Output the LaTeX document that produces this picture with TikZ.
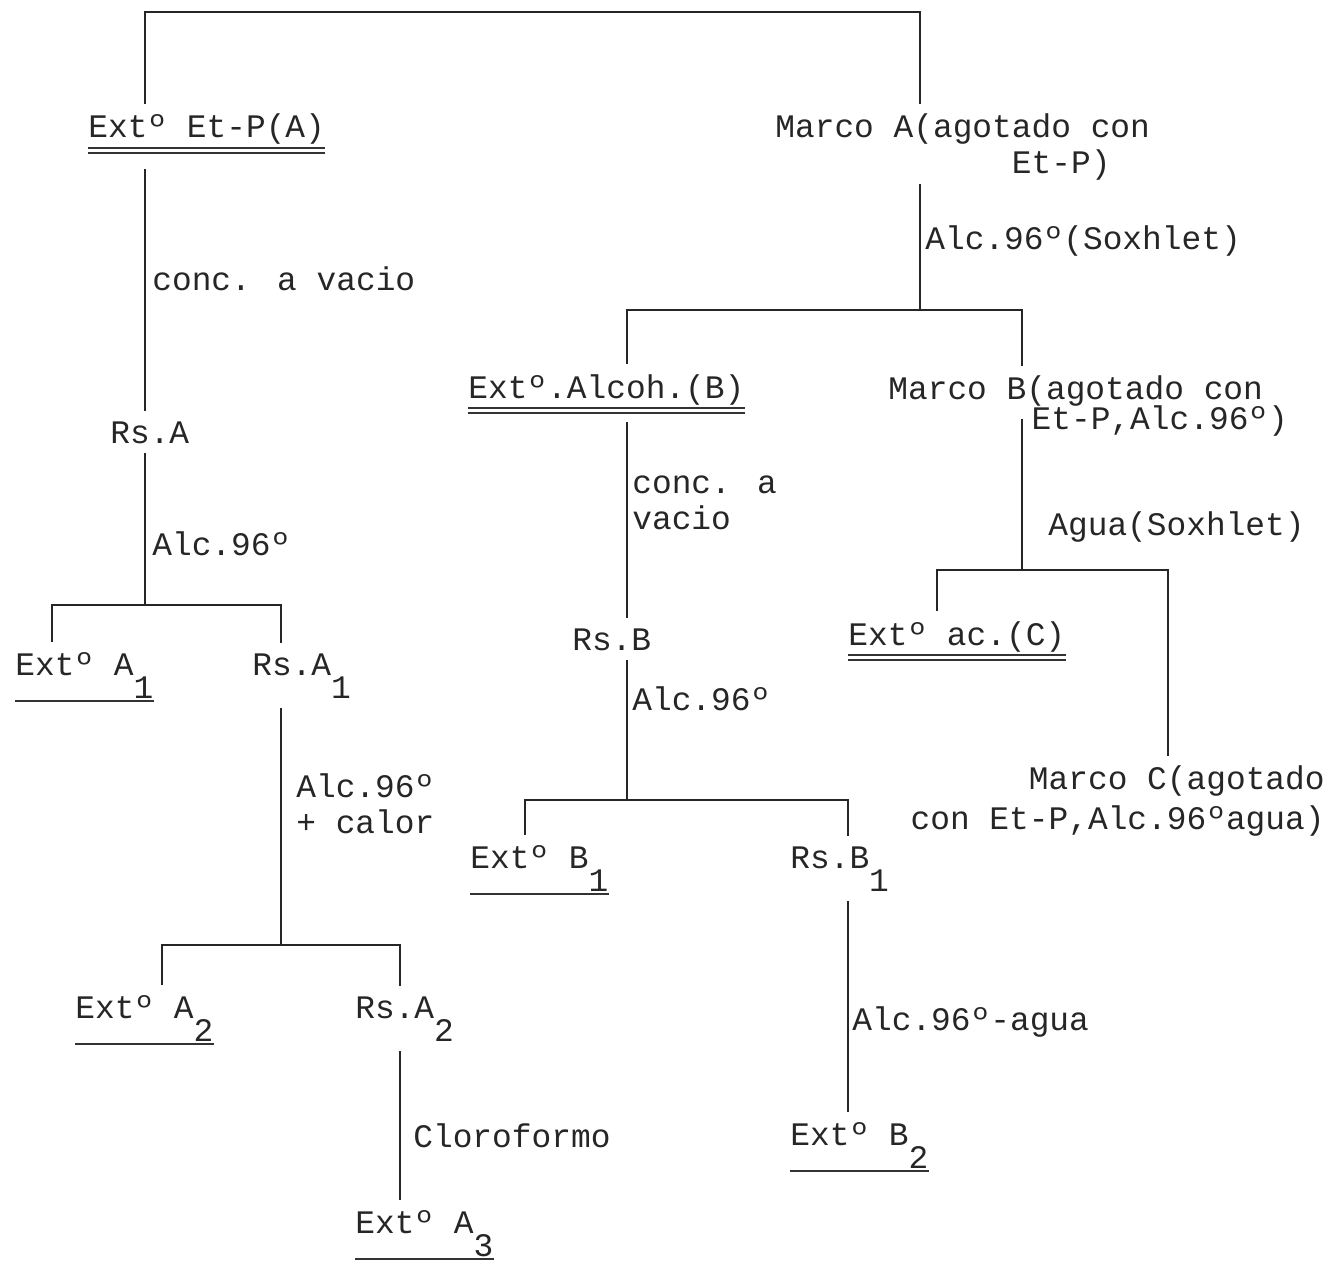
\documentclass[tikz,border=0pt]{standalone}
\usepackage{fontspec}
\usepackage{tikz}
\newfontfamily\typew{Liberation Mono}
\newcommand{\lowr}[1]{\raisebox{-0.7em}{#1}}

\tikzset{
	txt/.style={font=\typew\fontsize{18.7}{20.5}\selectfont, text=black!85,
		inner xsep=0pt, inner ysep=1.5pt, anchor=base west},
	lbl/.style={txt},
	ulstroke/.style={line width=1.3pt, black!80},
	uline/.style={append after command={
			(\tikzlastnode.south west) edge[ulstroke] (\tikzlastnode.south east)}},
	dline/.style={append after command={
			(\tikzlastnode.south west) edge[ulstroke] (\tikzlastnode.south east)
			([yshift=-0.1cm]\tikzlastnode.south west) edge[ulstroke] ([yshift=-0.1cm]\tikzlastnode.south east)}},
	link/.style={line width=0.9pt, black!85},
	gapin/.style={shorten <=4pt},
	gapout/.style={shorten >=4pt}
}

\begin{document}
\begin{tikzpicture}[x=0.02cm, y=-0.02cm]
		\useasboundingbox (0,0) rectangle (1335,1284);
		
		% columns and bars
		\coordinate (xA) at (145,0);
		\coordinate (xA1) at (52,0);
		\coordinate (xRA1) at (281,0);
		\coordinate (xA2) at (162,0);
		\coordinate (xRA2) at (400,0);
		\coordinate (xMA) at (920,0);
		\coordinate (xB) at (627,0);
		\coordinate (xMB) at (1022,0);
		\coordinate (xC) at (937,0);
		\coordinate (xMC) at (1168,0);
		\coordinate (xB1) at (525,0);
		\coordinate (xRB1) at (848,0);
		\coordinate (yTop) at (0,12);
		\coordinate (yA) at (0,605);
		\coordinate (yA1) at (0,945);
		\coordinate (yM) at (0,310);
		\coordinate (yMB) at (0,570);
		\coordinate (yB) at (0,800);
		
		% extracts and residues
		\node [txt, dline] (etpA) at (88,138) {Extº Et-P(A)};
		\node [txt, anchor=north west, align=left] (marcoA) at (775,111)
			{Marco A(agotado con\\\phantom{Marco A(agot}Et-P)};
		\node [txt] (rsA) at (110,443) {Rs.A};
		\node [txt, uline] (extA1) at (15,675) {Extº A\lowr{1}};
		\node [txt] (rsA1) at (252,675) {Rs.A\lowr{1}};
		\node [txt, uline] (extA2) at (75,1018) {Extº A\lowr{2}};
		\node [txt] (rsA2) at (355,1018) {Rs.A\lowr{2}};
		\node [txt, uline] (extA3) at (355,1233) {Extº A\lowr{3}};
		
		\node [txt, dline] (extB) at (468,398) {Extº.Alcoh.(B)};
		\node [txt, anchor=north west, align=left] (marcoB) at (888,373)
			{Marco B(agotado con\\[-3.4pt]\phantom{Marco B}\hspace{3pt}Et-P,Alc.96º)};
		\node [txt] (rsB) at (572,650) {Rs.B};
		\node [txt, uline] (extB1) at (470,868) {Extº B\lowr{1}};
		\node [txt] (rsB1) at (790,868) {Rs.B\lowr{1}};
		\node [txt, uline] (extB2) at (790,1145) {Extº B\lowr{2}};
		
		\node [txt, dline] (extC) at (848,645) {Extº ac.(C)};
		\node [txt, anchor=north east, align=right] (marcoC) at (1325,763)
			{Marco C(agotado\\[2pt]con Et-P,Alc.96ºagua)};
		
		% solvents
		\node [lbl] (l1) at (152,290) {conc. a vacio};
		\node [lbl] (l2) at (152,555) {Alc.96º};
		\node [lbl, anchor=north west, align=left] (l3) at (296,771) {Alc.96º\\+ calor};
		\node [lbl] (l4) at (413,1147) {Cloroformo};
		\node [lbl] (l5) at (925,250) {Alc.96º(Soxhlet)};
		\node [lbl, anchor=north west, align=left] (l6) at (632,473) {conc. a\\vacio};
		\node [lbl] (l7) at (632,710) {Alc.96º};
		\node [lbl] (l8) at (852,1030) {Alc.96º-agua};
		\node [lbl] (l9) at (1048,535) {Agua(Soxhlet)};
		
		% connectors
		\draw [link, gapin, gapout] (etpA.north -| xA) |- (yTop -| xMA) -- (marcoA.north -| xMA);
		\draw [link, shorten <=12pt, gapout] (etpA.south -| xA) -- (rsA.north -| xA);
		\draw [link, gapin] (rsA.south -| xA) -- (yA -| xA);
		\draw [link, gapin, gapout] (extA1.north -| xA1) |- (yA -| xA) -| (rsA1.north -| xRA1);
		\draw [link, gapin] (rsA1.south -| xRA1) -- (yA1 -| xRA1);
		\draw [link, gapin, gapout] (extA2.north -| xA2) |- (yA1 -| xRA1) -| (rsA2.north -| xRA2);
		\draw [link, gapin, gapout] (rsA2.south -| xRA2) -- (extA3.north -| xRA2);
		
		\draw [link] (marcoA.south -| xMA) -- (yM -| xMA);
		\draw [link, gapin, gapout] (extB.north -| xB) |- (yM -| xMA) -| (marcoB.north -| xMB);
		\draw [link, shorten <=8pt, gapout] (extB.south -| xB) -- (rsB.north -| xB);
		\draw [link, gapin] (rsB.south -| xB) -- (yB -| xB);
		\draw [link, gapin, gapout] (extB1.north -| xB1) |- (yB -| xB) -| (rsB1.north -| xRB1);
		\draw [link, gapin, gapout] (rsB1.south -| xRB1) -- (extB2.north -| xRB1);
		
		\draw [link, shorten <=-12pt] (marcoB.south -| xMB) -- (yMB -| xMB);
		\draw [link, gapin, gapout] (extC.north -| xC) |- (yMB -| xMB) -| (marcoC.north -| xMC);
\end{tikzpicture}
\end{document}
